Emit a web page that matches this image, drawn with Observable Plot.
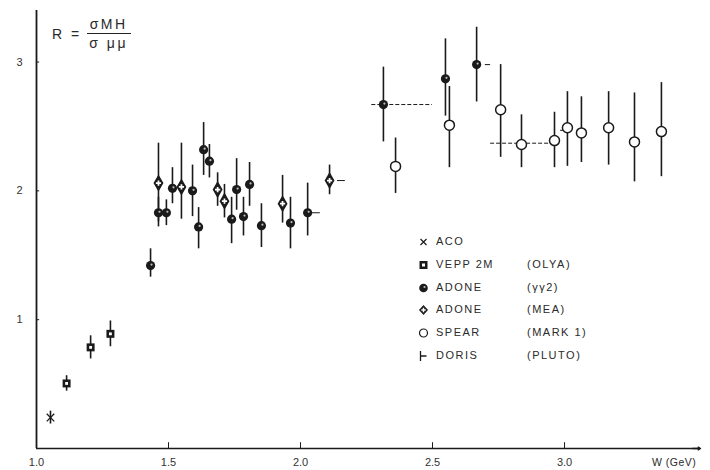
<!DOCTYPE html>
<html><head><meta charset="utf-8">
<script src="https://cdn.jsdelivr.net/npm/d3@7"></script>
<script src="https://cdn.jsdelivr.net/npm/@observablehq/plot@0.6"></script>
<style>
body{margin:0;background:#fff;}
#wrap{position:relative;width:710px;height:470px;overflow:hidden;font-family:"Liberation Sans",sans-serif;color:#2a2a2a;}
#formula{position:absolute;left:52px;top:16px;font-size:14px;display:flex;align-items:center;letter-spacing:2.5px;white-space:nowrap;}
#formula .frac{display:inline-flex;flex-direction:column;align-items:center;margin-left:5px;}
#formula .num{border-bottom:1.6px solid #222;padding:0 3px 1px 3px;}
#formula .den{padding-top:1px;}
#legend{position:absolute;left:418px;top:233px;font-size:11px;letter-spacing:1.5px;white-space:nowrap;}
#legend .row{position:relative;height:22.8px;}
#legend svg{position:absolute;left:0;top:3px;}
#legend .n{position:absolute;left:18px;top:2px;white-space:nowrap;}
#legend .p{position:absolute;left:109px;top:2px;white-space:nowrap;}
#wlabel{position:absolute;left:652px;top:456px;font-size:10.5px;letter-spacing:0.5px;white-space:nowrap;}
</style>
</head><body>
<div id="wrap">
<div id="chart"></div>
<div id="formula">R =<span class="frac"><span class="num">σMH</span><span class="den">σ μμ</span></span></div>
<div id="legend"></div>
<div id="wlabel">W (GeV)</div>
</div>
<script>
// ---- axis ticks ----
const xTicks = [1.0, 1.5, 2.0, 2.5, 3.0];
const xTickLabels = ["1.0", "1.5", "2.0", "2.5", "3.0"];
const yTicks = [1, 2, 3];
const yTickLabels = ["1", "2", "3"];
const xMin = 1.0, xMax = 3.515, yMin = 0, yMax = 3.4;

// ---- ACO ----
const acoW = [1.053];
const acoR = [0.24];
const acoErr = [0.05];

// ---- VEPP 2M (OLYA) ----
const veppW = [1.114, 1.205, 1.28];
const veppR = [0.505, 0.785, 0.89];
const veppErr = [0.06, 0.09, 0.1];

// ---- ADONE (gamma gamma 2) ----
const gg2W  = [1.432, 1.462, 1.492, 1.515, 1.591, 1.614, 1.633, 1.655, 1.739, 1.758, 1.784, 1.807, 1.852, 1.962, 2.027, 2.314, 2.549, 2.667];
const gg2R  = [1.42, 1.83, 1.83, 2.02, 2.00, 1.72, 2.32, 2.23, 1.78, 2.01, 1.80, 2.05, 1.73, 1.75, 1.83, 2.67, 2.87, 2.98];
const gg2Lo = [1.33, 1.72, 1.73, 1.90, 1.80, 1.55, 2.12, 2.10, 1.59, 1.85, 1.65, 1.88, 1.56, 1.55, 1.65, 2.38, 2.58, 2.69];
const gg2Hi = [1.55, 1.95, 1.93, 2.18, 2.20, 1.87, 2.53, 2.36, 1.95, 2.25, 1.95, 2.22, 1.90, 1.95, 2.06, 2.96, 3.18, 3.27];

// ---- ADONE (MEA) ----
const meaW  = [1.462, 1.549, 1.686, 1.712, 1.932, 2.110];
const meaR  = [2.06, 2.03, 2.01, 1.92, 1.90, 2.08];
const meaLo = [1.76, 1.78, 1.88, 1.79, 1.75, 1.97];
const meaHi = [2.37, 2.37, 2.14, 2.05, 2.12, 2.20];

// ---- SPEAR (MARK 1) ----
const spearW  = [2.36, 2.564, 2.758, 2.837, 2.962, 3.011, 3.064, 3.167, 3.265, 3.367];
const spearR  = [2.19, 2.51, 2.63, 2.36, 2.39, 2.49, 2.45, 2.49, 2.38, 2.46];
const spearLo = [1.98, 2.18, 2.26, 2.18, 2.18, 2.19, 2.22, 2.20, 2.07, 2.11];
const spearHi = [2.41, 2.81, 2.98, 2.59, 2.61, 2.77, 2.73, 2.77, 2.76, 2.84];

// ---- horizontal (bin) bars ----
const hbarR  = [2.67, 2.37, 1.83, 2.08, 2.98, 2.47];
const hbarW1 = [2.27, 2.72, 2.045, 2.14, 2.70, 2.985];
const hbarW2 = [2.50, 2.95, 2.075, 2.17, 2.72, 3.000];
const hbarDash = ["3,2", "3,2", null, null, null, null];

// ---- legend ----
const legendNames = ["ACO", "VEPP  2M", "ADONE", "ADONE", "SPEAR", "DORIS"];
const legendParens = ["", "(OLYA)", "(γγ2)", "(MEA)", "(MARK 1)", "(PLUTO)"];

const zipPts = (W, R, lo, hi) => W.map((w, i) => ({W: w, R: R[i], lo: lo[i], hi: hi[i]}));
const aco = zipPts(acoW, acoR, acoR.map((r,i)=>r-acoErr[i]), acoR.map((r,i)=>r+acoErr[i]));
const vepp = zipPts(veppW, veppR, veppR.map((r,i)=>r-veppErr[i]), veppR.map((r,i)=>r+veppErr[i]));
const gg2 = zipPts(gg2W, gg2R, gg2Lo, gg2Hi);
const mea = zipPts(meaW, meaR, meaLo, meaHi);
const spear = zipPts(spearW, spearR, spearLo, spearHi);
const hbars = hbarR.map((r, i) => ({R: r, w1: hbarW1[i], w2: hbarW2[i], dash: hbarDash[i]}));
const all = [...aco, ...vepp, ...gg2, ...mea, ...spear];

const ink = "#1a1a1a";
const fs = 11;

const chart = Plot.plot({
  width: 710, height: 470,
  marginLeft: 36, marginRight: 10, marginTop: 10, marginBottom: 22,
  x: {domain: [xMin, xMax]},
  y: {domain: [yMin, yMax]},
  style: {fontFamily: "Liberation Sans, sans-serif", fontSize: fs + "px", color: ink, background: "white"},
  marks: [
    // axis lines
    Plot.ruleY([yMin], {x1: xMin, x2: xMax, stroke: ink, strokeWidth: 1.4}),
    Plot.arrow([{a: xMax - 0.03, b: xMax}], {x1: "a", x2: "b", y1: yMin, y2: yMin, stroke: ink, strokeWidth: 1.4, headLength: 7}),
    Plot.ruleX([xMin], {y1: yMin, y2: yMax, stroke: ink, strokeWidth: 1.8}),
    // inward tick marks
    Plot.ruleX(xTicks.slice(1), {y1: yMin, y2: yMin + 0.045, stroke: ink, strokeWidth: 1}),
    Plot.ruleY(yTicks, {x1: xMin, x2: xMin + 0.012, stroke: ink, strokeWidth: 1}),
    Plot.axisX({ticks: xTicks, tickSize: 0, tickPadding: 10, tickFormat: d => xTickLabels[xTicks.indexOf(d)], fontSize: fs, fill: "#333"}),
    Plot.axisY({ticks: yTicks, tickSize: 0, tickPadding: 14, tickFormat: d => yTickLabels[yTicks.indexOf(d)], fontSize: fs, fill: "#333"}),
    // horizontal bars
    Plot.ruleY(hbars.filter(d => d.dash), {y: "R", x1: "w1", x2: "w2", stroke: ink, strokeWidth: 1, strokeDasharray: "4,2"}),
    Plot.ruleY(hbars.filter(d => !d.dash), {y: "R", x1: "w1", x2: "w2", stroke: ink, strokeWidth: 1}),
    // vertical error bars
    Plot.ruleX(all, {x: "W", y1: "lo", y2: "hi", stroke: ink, strokeWidth: 1.6}),
    // ACO
    Plot.dot(aco, {x: "W", y: "R", symbol: "times", r: 3.5, stroke: ink, strokeWidth: 1.3}),
    // VEPP
    Plot.dot(vepp, {x: "W", y: "R", symbol: "square", r: 4.5, fill: ink}),
    Plot.dot(vepp, {x: "W", y: "R", symbol: "square", r: 1.6, fill: "white"}),
    // ADONE gg2
    Plot.dot(gg2, {x: "W", y: "R", symbol: "circle", r: 4.6, fill: ink}),
    Plot.dot(gg2, {x: "W", y: "R", symbol: "circle", r: 1.1, fill: "#bbb", dx: 1, dy: -1}),
    // ADONE MEA
    Plot.dot(mea, {x: "W", y: "R", symbol: "diamond", r: 5.2, fill: ink}),
    Plot.dot(mea, {x: "W", y: "R", symbol: "cross", r: 2.2, fill: "white"}),
    // SPEAR
    Plot.dot(spear, {x: "W", y: "R", symbol: "circle", r: 5, fill: "white", stroke: ink, strokeWidth: 1.5})
  ]
});
document.getElementById("chart").appendChild(chart);

// legend (symbols drawn as small inline svg)
const legSyms = [
  '<path d="M2,3 L8,9 M8,3 L2,9" stroke="#1a1a1a" stroke-width="1.2" fill="none"/>',
  '<rect x="1" y="2" width="8" height="8" fill="#1a1a1a"/><rect x="3.5" y="4.5" width="3" height="3" fill="white"/>',
  '<circle cx="5" cy="6" r="4.3" fill="#1a1a1a"/><circle cx="6" cy="5" r="1.1" fill="#bbb"/>',
  '<path d="M5,1 L9.5,6 L5,11 L0.5,6 Z" fill="#1a1a1a"/><path d="M5,3.8 V8.2 M2.8,6 H7.2" stroke="white" stroke-width="1.4"/>',
  '<circle cx="5" cy="6" r="4" fill="white" stroke="#1a1a1a" stroke-width="1.2"/>',
  '<path d="M2,1 V11 M2,6 H8" stroke="#1a1a1a" stroke-width="1.3" fill="none"/>'
];
const leg = document.getElementById("legend");
legendNames.forEach((n, i) => {
  const row = document.createElement("div");
  row.className = "row";
  row.innerHTML = `<svg width="11" height="12" viewBox="0 0 10 12">${legSyms[i]}</svg><span class="n">${n}</span><span class="p">${legendParens[i]}</span>`;
  leg.appendChild(row);
});
</script>
</body></html>
